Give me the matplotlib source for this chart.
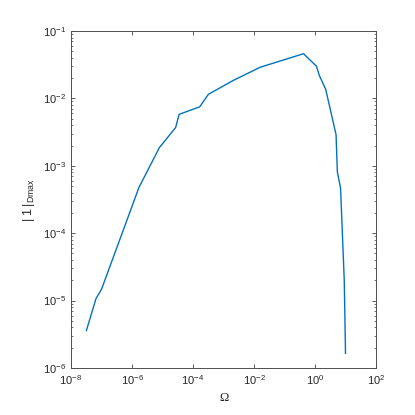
import matplotlib
matplotlib.use("Agg")
import matplotlib.pyplot as plt
import numpy as np

omega = [3.2e-8, 6.6e-8, 1.0e-7, 1.7e-6, 7.9e-6, 2.7e-5, 3.5e-5, 1.66e-4, 3.2e-4,
         2.2e-3, 1.6e-2, 0.42, 1.12, 1.38, 2.24, 4.9, 5.4, 6.9, 9.1, 10.0]
amp = [3.6e-6, 1.07e-5, 1.47e-5, 4.8e-4, 1.86e-3, 3.7e-3, 5.8e-3, 7.5e-3, 1.15e-2,
       1.87e-2, 2.9e-2, 4.6e-2, 3.0e-2, 2.2e-2, 1.37e-2, 2.9e-3, 8.2e-4, 4.6e-4, 2.0e-5, 1.65e-6]

plt.rcParams['font.family'] = ['Liberation Sans', 'DejaVu Sans']
plt.rcParams['mathtext.fontset'] = 'custom'
plt.rcParams['mathtext.rm'] = 'Liberation Sans'
plt.rcParams['mathtext.it'] = 'Liberation Sans'

fig = plt.figure(figsize=(4.15, 4.15), dpi=100)
ax = fig.add_axes([71/415, 1-368/415, (376-71)/415, (368-31)/415])
ax.plot(omega, amp, color='#0072BD', lw=1.0)
ax.set_xscale('log')
ax.set_yscale('log')
ax.set_xlim(1e-8, 1e2)
ax.set_ylim(1e-6, 1e-1)
ax.set_xticks([1e-8, 1e-6, 1e-4, 1e-2, 1e0, 1e2])
ax.xaxis.set_minor_locator(matplotlib.ticker.NullLocator())
ax.tick_params(which='both', direction='in', top=True, right=True, color='0.25',
               labelcolor='0.15', labelsize=8)
ax.tick_params(which='major', length=3, width=0.6)
ax.tick_params(which='minor', length=1.6, width=0.5)
for s in ax.spines.values():
    s.set_color('0.3')
    s.set_linewidth(0.7)
ax.set_xlabel('Ω', fontsize=9, family=['Liberation Serif'], color='0.15')
ax.set_ylabel(r'$|\;1\;|_{\mathrm{Dmax}}$', fontsize=9, color='0.15')
fig.savefig('out.png', dpi=100)
